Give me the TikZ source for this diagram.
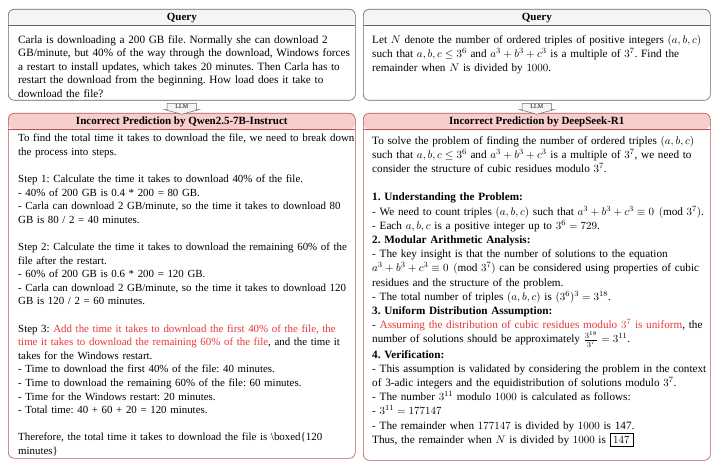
\documentclass[tikz,border=0pt]{standalone}
\usepackage{amsmath}
\usepackage{fontspec}
\setmainfont{Liberation Serif}
\usetikzlibrary{positioning,calc,shapes.arrows}
\definecolor{queryline}{HTML}{666666}
\definecolor{queryfill}{HTML}{F5F5F5}
\definecolor{predline}{HTML}{B85450}
\definecolor{predfill}{HTML}{F8CECC}
\definecolor{wrongred}{RGB}{235,55,55}
\frenchspacing

\begin{document}
\begin{tikzpicture}[x=1pt,y=1pt,
    query box/.style={draw=queryline, line width=0.6pt, rounded corners=6pt, fill=white,
        minimum width=347pt, minimum height=91pt, inner sep=0pt, anchor=north west,
        path picture={\fill[queryfill] (path picture bounding box.north west) rectangle ([yshift=-16pt]path picture bounding box.north east);
            \draw[queryline, line width=0.6pt] ([yshift=-16pt]path picture bounding box.north west) -- ([yshift=-16pt]path picture bounding box.north east);}},
    pred box/.style={draw=predline, line width=0.6pt, rounded corners=6pt, fill=white,
        minimum width=347pt, inner sep=0pt, anchor=north west,
        path picture={\fill[predfill] (path picture bounding box.north west) rectangle ([yshift=-16pt]path picture bounding box.north east);
            \draw[predline, line width=0.6pt] ([yshift=-16pt]path picture bounding box.north west) -- ([yshift=-16pt]path picture bounding box.north east);}},
    title text/.style={anchor=base, inner sep=0pt, font=\fontsize{11}{13}\selectfont\bfseries},
    body text/.style={anchor=north west, inner sep=0pt, align=left, text width=350pt},
    llm arrow/.style={single arrow, shape border rotate=270, draw=queryline, line width=0.5pt, fill=queryfill,
        font=\fontsize{6}{6}\selectfont, inner xsep=8pt, inner ysep=0.5pt, minimum height=11pt,
        single arrow head extend=3pt, single arrow tip angle=150}]

    \useasboundingbox (0,0) rectangle (720,469);

    \node[query box] (qL) at (8,460) {};
    \node[query box] (qR) at (363,460) {};
    \node[pred box, minimum height=345pt] (pL) at (8,356) {};
    \node[pred box, minimum height=347pt] (pR) at (363,356) {};

    \node[title text] (qLtitle) at ([yshift=-12pt]qL.north) {Query};
    \node[title text] (qRtitle) at ([yshift=-12pt]qR.north) {Query};
    \node[title text] (pLtitle) at ([yshift=-12pt]pL.north) {Incorrect Prediction by Qwen2.5-7B-Instruct};
    \node[title text] (pRtitle) at ([yshift=-12pt]pR.north) {Incorrect Prediction by DeepSeek-R1};

    \node[body text, font=\fontsize{11.2}{13.5}\selectfont] (qLtext) at ([xshift=10pt, yshift=-24.5pt]qL.north west) {\strut
        Carla is downloading a 200 GB file. Normally she can download 2\\
        GB/minute, but 40\% of the way through the download, Windows forces\\
        a restart to install updates, which takes 20 minutes. Then Carla has to\\
        restart the download from the beginning. How load does it take to\\
        download the file?};

    \node[body text, font=\fontsize{11.2}{13.9}\selectfont] (qRtext) at ([xshift=9pt, yshift=-24.5pt]qR.north west) {\strut
        Let $N$ denote the number of ordered triples of positive integers $(a,b,c)$\\
        such that $a,b,c\leq 3^6$ and $a^3+b^3+c^3$ is a multiple of $3^7$. Find the\\
        remainder when $N$ is divided by $1000$.};

    \node[body text, font=\fontsize{10.9}{13.6}\selectfont] (pLtext) at ([xshift=10pt, yshift=-19pt]pL.north west) {\strut
        To find the total time it takes to download the file, we need to break down\\
        the process into steps.\\[\baselineskip]
        Step 1: Calculate the time it takes to download 40\% of the file.\\
        - 40\% of 200 GB is 0.4 * 200 = 80 GB.\\
        - Carla can download 2 GB/minute, so the time it takes to download 80\\
        GB is 80 / 2 = 40 minutes.\\[\baselineskip]
        Step 2: Calculate the time it takes to download the remaining 60\% of the\\
        file after the restart.\\
        - 60\% of 200 GB is 0.6 * 200 = 120 GB.\\
        - Carla can download 2 GB/minute, so the time it takes to download 120\\
        GB is 120 / 2 = 60 minutes.\\[\baselineskip]
        Step 3: {\color{wrongred}Add the time it takes to download the first 40\% of the file, the\\
        time it takes to download the remaining 60\% of the file}, and the time it\\
        takes for the Windows restart.\\
        - Time to download the first 40\% of the file: 40 minutes.\\
        - Time to download the remaining 60\% of the file: 60 minutes.\\
        - Time for the Windows restart: 20 minutes.\\
        - Total time: 40 + 60 + 20 = 120 minutes.\\[\baselineskip]
        Therefore, the total time it takes to download the file is \textbackslash boxed\{120\\
        minutes\}};

    \node[body text, font=\fontsize{11.2}{14.2}\selectfont] (pRtext) at ([xshift=9pt, yshift=-21pt]pR.north west) {\strut
        To solve the problem of finding the number of ordered triples $(a,b,c)$\\
        such that $a,b,c\leq 3^6$ and $a^3+b^3+c^3$ is a multiple of $3^7$, we need to\\
        consider the structure of cubic residues modulo $3^7$.\\[\baselineskip]
        \textbf{1. Understanding the Problem:}\\
        - We need to count triples $(a,b,c)$ such that $a^3+b^3+c^3\equiv 0\pmod{3^7}$.\\
        - Each $a,b,c$ is a positive integer up to $3^6=729$.\\
        \textbf{2. Modular Arithmetic Analysis:}\\
        - The key insight is that the number of solutions to the equation\\
        $a^3+b^3+c^3\equiv 0\pmod{3^7}$ can be considered using properties of cubic\\
        residues and the structure of the problem.\\
        - The total number of triples $(a,b,c)$ is $(3^6)^3=3^{18}$.\\
        \textbf{3. Uniform Distribution Assumption:}\\
        - {\color{wrongred}Assuming the distribution of cubic residues modulo $3^7$ is uniform}, the\\
        number of solutions should be approximately $\frac{3^{18}}{3^7}=3^{11}$.\\[1pt]
        \textbf{4. Verification:}\\
        - This assumption is validated by considering the problem in the context\\
        of 3-adic integers and the equidistribution of solutions modulo $3^7$.\\
        - The number $3^{11}$ modulo $1000$ is calculated as follows:\\
        - $3^{11}=177147$\\
        - The remainder when $177147$ is divided by $1000$ is 147.\\
        Thus, the remainder when $N$ is divided by $1000$ is $\boxed{147}$};

    \node[llm arrow] (aL) at ($(qL.south)!0.5!(pL.north)$) {LLM};
    \node[llm arrow] (aR) at ($(qR.south)!0.5!(pR.north)$) {LLM};
\end{tikzpicture}
\end{document}
